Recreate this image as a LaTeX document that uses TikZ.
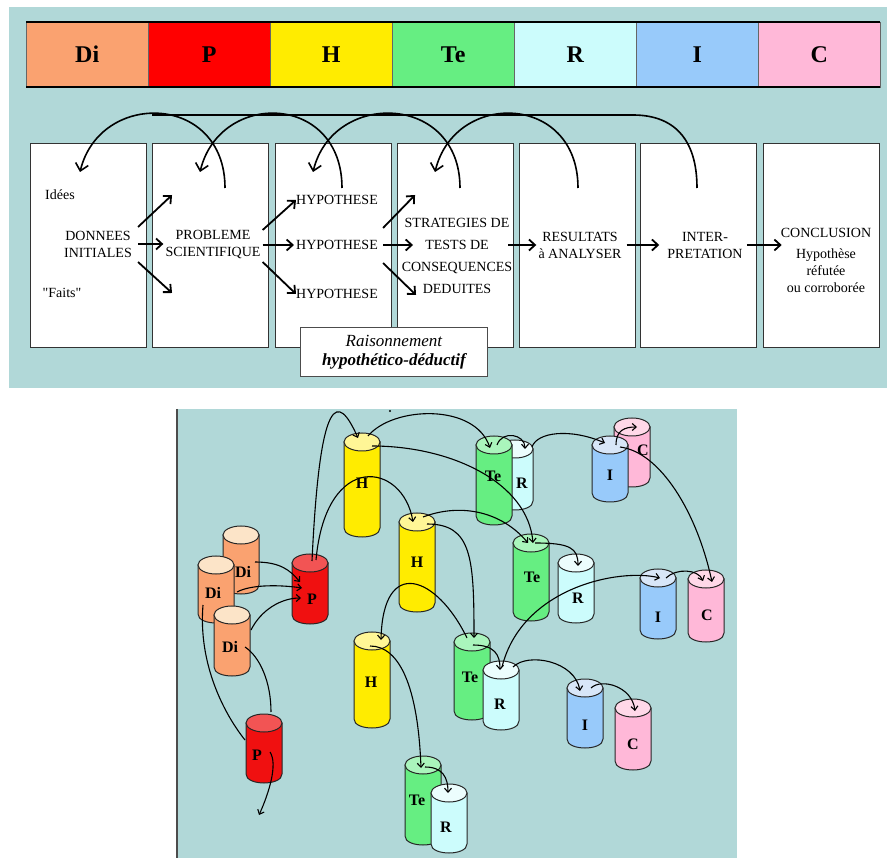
\documentclass[tikz,border=0pt]{standalone}
\usepackage{fontspec}
\setmainfont{Liberation Serif}[Ligatures=TeXOff]
\usetikzlibrary{calc, arrows.meta}

\definecolor{panel}{RGB}{177,216,216}
\definecolor{DiBody}{RGB}{250,162,112}
\definecolor{DiTop}{RGB}{252,228,200}
\definecolor{PBody}{RGB}{240,16,16}
\definecolor{PTop}{RGB}{242,84,84}
\definecolor{HBody}{RGB}{255,236,0}
\definecolor{HTop}{RGB}{255,246,150}
\definecolor{TeBody}{RGB}{102,238,130}
\definecolor{TeTop}{RGB}{170,245,188}
\definecolor{RBody}{RGB}{204,252,252}
\definecolor{RTop}{RGB}{236,253,253}
\definecolor{IBody}{RGB}{152,202,250}
\definecolor{ITop}{RGB}{216,230,248}
\definecolor{CBody}{RGB}{255,184,216}
\definecolor{CTop}{RGB}{255,216,232}

\tikzset{
	barcell/.style={draw=black!60, anchor=north west, minimum width=122pt, minimum height=65pt, inner sep=0pt, font=\fontsize{24}{24}\selectfont\bfseries},
	box/.style={draw=black!80, fill=white, line width=0.8pt, anchor=north west, minimum width=116pt, minimum height=204pt, inner sep=0pt},
	txt/.style={font=\fontsize{14}{17}\selectfont, align=center, inner sep=2pt},
	raison/.style={draw=black!70, fill=white, line width=0.8pt, anchor=north west, minimum width=187pt, minimum height=49pt, align=center, inner sep=0pt, font=\fontsize{17}{19}\selectfont},
	harr/.style={line width=1.8pt, -{Straight Barb[length=6pt,width=11pt]}},
	backarc/.style={line width=1.6pt, -{Straight Barb[length=7pt,width=13pt]}},
	link/.style={line width=1.1pt, -{Straight Barb[length=4pt,width=7pt]}},
	plainlink/.style={line width=1.1pt},
	cylbody/.style={draw=black!85, line width=1pt},
	cyllabel/.style={font=\fontsize{16}{16}\selectfont\bfseries, inner sep=1pt}
}

% name, kind, x, y top, y bottom, label x, label y
\newcommand{\drawcyl}[7]{%
	\filldraw[cylbody, fill=#2Body] (#3-18,#4) -- (#3-18,#5) .. controls (#3-18,#5+12) and (#3+18,#5+12) .. (#3+18,#5) -- (#3+18,#4) -- cycle;
	\filldraw[cylbody, fill=#2Top] (#3,#4) ellipse [x radius=18, y radius=9];
	\coordinate (#1) at (#3,#4);
	\node[cyllabel] (#1-lab) at (#6,#7) {#2};
}

\begin{document}
\begin{tikzpicture}[x=1pt, y=-1pt]
		\useasboundingbox (0,0) rectangle (887,858);
		
		% upper panel
		\fill[panel] (9,7) rectangle (887,388);
		\foreach \t [count=\i] in {Di,P,H,Te,R,I,C}
			\node[barcell, fill=\t Body] (bar\t) at ({26+122*(\i-1)},22) {\t};
		\fill[red] (barP.north west) rectangle (barP.south east);
		\node[barcell] at (barP.north west) {P};
		\draw[line width=2pt] (barDi.north west) -- (barC.north east);
		\draw[line width=2pt] (barDi.south west) -- (barC.south east);
		
		\foreach \n/\x in {1/30, 2/152, 3/275, 4/397, 5/519, 6/640, 7/763}
			\node[box] (b\n) at (\x,143) {};
		
		\foreach \i/\j/\s/\e in {1/2/73/50, 2/3/67/48, 3/4/63/38, 4/5/59/38}
			\draw[backarc] ($(b\j.north west)+(\s,45)$) .. controls +(0,-95) and +(20,-82) .. ($(b\i.north west)+(\e,29)$);
		\draw[line width=1.6pt] ($(b6.north west)+(57,45)$) .. controls +(0,-50) and +(40,0) .. ($(b6.north west)+(-7,-28)$) -- ($(b1.north west)+(122,-28)$);
		
		\node[txt] (idees) at (60,195) {Idées};
		\node[txt] (donnees) at (98,244) {DONNEES\\INITIALES};
		\node[txt] (faits) at (62,293) {"Faits"};
		\node[txt] (probleme) at (213,245) {PROBLEME\\SCIENTIFIQUE};
		\node[txt] (hyp1) at (337,200) {HYPOTHESE};
		\node[txt] (hyp2) at (337,245) {HYPOTHESE};
		\node[txt] (hyp3) at (337,294) {HYPOTHESE};
		\node[txt, font=\fontsize{14}{22}\selectfont] (strat) at (457,256) {STRATEGIES DE\\TESTS DE\\CONSEQUENCES\\DEDUITES};
		\node[txt] (resultats) at (580,245) {RESULTATS\\à ANALYSER};
		\node[txt] (inter) at (705,245) {INTER-\\PRETATION};
		\node[txt] (conclusion) at (826,260) {CONCLUSION\\[4pt]Hypothèse\\réfutée\\ou corroborée};
		
		\draw[harr] ($(donnees.east)+(4,-17)$) -- +(34,-32);
		\draw[harr] ($(donnees.east)+(4,0)$) -- (probleme.west |- donnees.east);
		\draw[harr] ($(donnees.east)+(4,18)$) -- +(34,31);
		\draw[harr] ($(probleme.east)+(0,-15)$) -- ($(hyp1.west)+(2,0)$);
		\draw[harr] (probleme.east) -- (hyp2.west);
		\draw[harr] ($(probleme.east)+(0,17)$) -- ($(hyp3.west)+(2,0)$);
		\draw[harr] ($(hyp2.east)+(3,-17)$) -- +(32,-33);
		\draw[harr] ($(hyp2.east)+(3,0)$) -- +(30,0);
		\draw[harr] ($(hyp2.east)+(3,18)$) -- +(33,32);
		\draw[harr] ($(strat.east |- resultats.west)+(-6,0)$) -- (resultats.west);
		\draw[harr] ($(resultats.east)+(3,0)$) -- ($(inter.west)+(-6,0)$);
		\draw[harr] ($(inter.east)+(2,0)$) -- ($(conclusion.west |- inter.east)+(3,0)$);
		
		\node[raison] (raison) at (300,327) {\itshape Raisonnement\\\bfseries\itshape hypothético-déductif};
		
		% lower panel
		\fill[panel] (177,409) rectangle (737,858);
		\draw[black!70, line width=1.2pt] (177,409) -- (177,858);
		\fill (390,411) circle [radius=1.2];
		
		\drawcyl{Di1}{Di}{241}{535}{585}{243}{572}
		\drawcyl{Di2}{Di}{216}{565}{614}{213}{593}
		\drawcyl{Di3}{Di}{232}{615}{667}{230}{647}
		\drawcyl{P1}{P}{310}{563}{615}{312}{599}
		\drawcyl{P2}{P}{264}{723}{774}{257}{755}
		\drawcyl{H1}{H}{362}{442}{528}{362}{483}
		\drawcyl{H2}{H}{417}{522}{603}{417}{562}
		\drawcyl{H3}{H}{372}{641}{719}{371}{682}
		\drawcyl{R1}{R}{515}{449}{501}{522}{483}
		\drawcyl{Te1}{Te}{494}{445}{516}{493}{476}
		\drawcyl{C1}{C}{632}{427}{478}{643}{450}
		\drawcyl{I1}{I}{610}{445}{493}{610}{475}
		\drawcyl{Te2}{Te}{531}{543}{612}{532}{577}
		\drawcyl{R2}{R}{576}{563}{614}{578}{598}
		\drawcyl{I2}{I}{658}{578}{630}{658}{617}
		\drawcyl{C2}{C}{706}{579}{633}{707}{615}
		\drawcyl{Te3}{Te}{472}{642}{711}{470}{677}
		\drawcyl{R3}{R}{501}{670}{721}{500}{704}
		\drawcyl{I3}{I}{585}{688}{739}{585}{725}
		\drawcyl{C3}{C}{633}{708}{761}{633}{744}
		\drawcyl{Te4}{Te}{423}{765}{836}{417}{800}
		\drawcyl{R4}{R}{449}{793}{844}{446}{827}
		\coordinate (P2out) at (259,815);
		
		\draw[link] ($(Di1)+(14,27)$) .. controls +(25,0) and +(-10,-12) .. ($(P1)+(-10,19)$);
		\draw[link] ($(Di2)+(21,27)$) .. controls +(15,-8) and +(-20,-3) .. ($(P1)+(-8,25)$);
		\draw[link] ($(Di3)+(19,15)$) .. controls +(10,-20) and +(-20,0) .. ($(P1)+(-9,35)$);
		\draw[plainlink] ($(Di2)+(-13,40)$) .. controls +(-5,60) and +(-20,-25) .. ($(P2)+(-19,17)$);
		\draw[plainlink] ($(Di3)+(13,32)$) .. controls +(15,10) and +(0,-30) .. ($(P2)+(7,-11)$);
		\draw[link] ($(P2)+(6,29)$) .. controls +(8,12) and +(10,-22) .. (P2out);
		\draw[link] ($(P1)+(2,-2)$) .. controls +(8,-170) and +(-20,-45) .. ($(H1)+(-4,-4)$);
		\draw[link] ($(P1)+(6,-3)$) .. controls +(10,-110) and +(-10,-60) .. ($(H2)+(-4,0)$);
		\draw[link] ($(H1)+(6,-6)$) .. controls +(25,-30) and +(-15,-45) .. ($(Te1)+(-4,3)$);
		\draw[link] ($(H1)+(10,4)$) .. controls +(80,0) and +(-5,-60) .. ($(Te2)+(2,0)$);
		\draw[link] ($(H2)+(6,-5)$) .. controls +(40,-15) and +(-25,-30) .. ($(Te2)+(-3,0)$);
		\draw[link] ($(H2)+(10,2)$) .. controls +(45,0) and +(0,-80) .. ($(Te3)+(2,-4)$);
		\draw[link] ($(Te3)+(-5,-4)$) .. controls +(-30,-62) and +(2,-85) .. ($(H3)+(9,-1)$);
		\draw[link] ($(H3)+(-2,5)$) .. controls +(30,0) and +(-3,-80) .. ($(Te4)+(-2,3)$);
		\draw[link] ($(Te4)+(2,2)$) .. controls +(18,0) and +(0,-15) .. ($(R4)+(-1,0)$);
		\draw[link] ($(Te3)+(1,3)$) .. controls +(22,0) and +(0,-15) .. ($(R3)+(-1,0)$);
		\draw[link] ($(Te2)+(4,0)$) .. controls +(35,0) and +(0,-18) .. ($(R2)+(2,3)$);
		\draw[link] ($(Te1)+(3,0)$) .. controls +(5,-15) and +(0,-15) .. ($(R1)+(10,0)$);
		\draw[link] ($(R1)+(17,-2)$) .. controls +(5,-15) and +(-35,-15) .. ($(I1)+(-5,-2)$);
		\draw[link] ($(I1)+(6,0)$) .. controls +(0,-15) and +(-12,0) .. ($(C1)+(5,0)$);
		\draw[link] ($(I1)+(10,2)$) .. controls +(40,5) and +(-15,-70) .. ($(C2)+(6,3)$);
		\draw[link] ($(R3)+(1,-3)$) .. controls +(20,-80) and +(-40,-10) .. ($(I2)+(2,0)$);
		\draw[link] ($(I2)+(8,0)$) .. controls +(10,-10) and +(-5,-12) .. ($(C2)+(-3,2)$);
		\draw[link] ($(R3)+(12,-3)$) .. controls +(15,-15) and +(-5,-30) .. ($(I3)+(-5,3)$);
		\draw[link] ($(I3)+(6,0)$) .. controls +(10,-10) and +(-3,-25) .. ($(C3)+(2,3)$);
	\end{tikzpicture}
\end{document}
